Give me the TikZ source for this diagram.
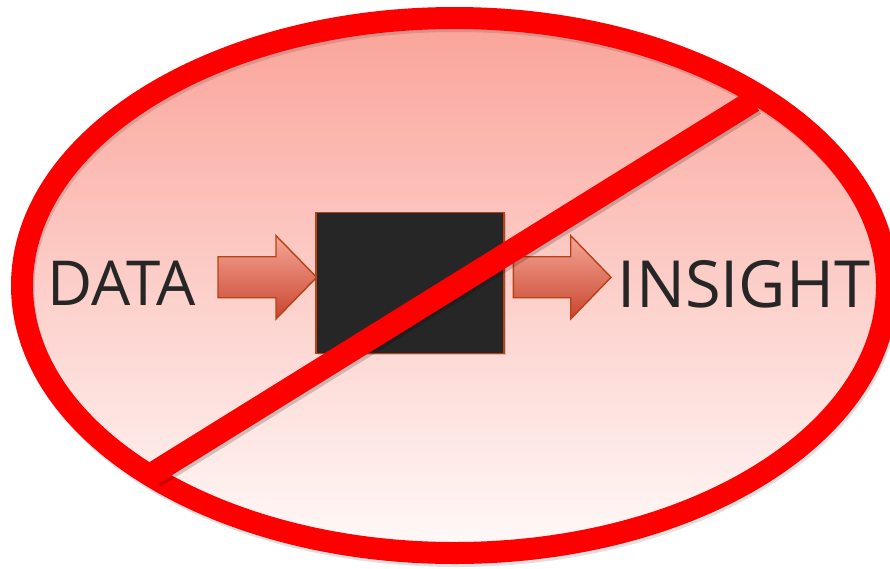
\documentclass[tikz,border=0pt]{standalone}
\usepackage{fontspec}
\newfontfamily\wordfont{Open Sans}
\usetikzlibrary{shadows}
\definecolor{ringred}{RGB}{255,0,0}
\definecolor{topfill}{RGB}{250,163,153}
\definecolor{botfill}{RGB}{255,250,249}
\definecolor{txt}{RGB}{38,38,38}
\definecolor{boxfill}{RGB}{38,38,38}
\definecolor{rust}{RGB}{184,66,18}
\definecolor{arrtop}{RGB}{246,166,150}
\definecolor{arrbot}{RGB}{200,70,48}
\tikzset{
  ring/.style={draw=ringred, line width=22pt},
  ringshadow/.style={draw=black, opacity=0.12, line width=22pt},
  bigword/.style={text=txt, inner sep=0pt, anchor=base},
  fatarrow/.style={draw=rust, line width=1.4pt, line join=miter, top color=arrtop, bottom color=arrbot},
  blackbox/.style={draw=rust, line width=1.4pt, fill=boxfill, minimum width=188pt, minimum height=141pt, inner sep=0pt,
    drop shadow={opacity=0.35, shadow xshift=2pt, shadow yshift=-2pt}},
  slash/.style={draw=ringred, line width=23pt, line cap=butt},
  slashshadow/.style={draw=black, opacity=0.18, line width=23pt, line cap=butt},
}
\begin{document}
\begin{tikzpicture}[x=1pt, y=-1pt]
  \useasboundingbox (0,0) rectangle (890,568);
  % filled ellipse
  \coordinate (c) at (454.5,285.5);
  \path[top color=topfill, bottom color=botfill] (c) ellipse [x radius=432.5, y radius=267.5];
  % words
  \node[bigword, font=\wordfont\fontsize{62}{62}\selectfont] (data) at (122,305) {DATA};
  \node[bigword, font=\wordfont\fontsize{65}{65}\selectfont] (insight) at (744,307) {INSIGHT};
  % arrows
  \path[fatarrow] (218,256.7) -- (276,256.7) -- (276,235.7) -- (316.7,277.3) -- (276,319) -- (276,297.7) -- (218,297.7) -- cycle;
  \path[fatarrow] (513.3,256.7) -- (570.7,256.7) -- (570.7,235.7) -- (611,277.3) -- (570.7,319) -- (570.7,297.7) -- (513.3,297.7) -- cycle;
  % black box
  \node[blackbox] (box) at (410,282.8) {};
  % ring shadow and ring
  \path[ringshadow] ([xshift=1.5pt,yshift=-3pt]c) ellipse [x radius=432.5, y radius=267.5];
  \path[ring] (c) ellipse [x radius=432.5, y radius=267.5];
  % slash
  \coordinate (s1) at (152,474);
  \coordinate (s2) at (753,101);
  \path[slashshadow] ([xshift=2pt,yshift=-3pt]s1) -- ([xshift=2pt,yshift=-3pt]s2);
  \path[slash] (s1) -- (s2);
\end{tikzpicture}
\end{document}
